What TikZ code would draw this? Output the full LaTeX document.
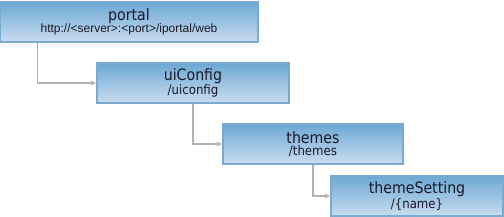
\documentclass[tikz,border=0pt]{standalone}
\usepackage{fontspec}
\setmainfont{DejaVu Sans Condensed}
\newfontfamily\urlfont{Liberation Sans}
\usetikzlibrary{arrows.meta}
\definecolor{boxtop}{RGB}{108,168,211}
\definecolor{boxbottom}{RGB}{202,220,240}
\definecolor{boxline}{RGB}{122,170,208}
\definecolor{linkgray}{RGB}{178,178,178}
\definecolor{textdark}{RGB}{25,25,40}
\newcommand{\subline}[1]{{\fontsize{9.8}{9}\selectfont #1}}

\begin{document}
\begin{tikzpicture}[x=0.75pt, y=-0.75pt,
  resbox/.style={draw=boxline, line width=0.8pt, top color=boxtop, bottom color=boxbottom,
    minimum height=30pt, inner sep=0pt, align=center, text=textdark,
    font=\fontsize{11.8}{9.2}\selectfont},
  link/.style={draw=linkgray, line width=1.1pt, -{Latex[length=4pt,width=4pt]}}]
\useasboundingbox (0,0) rectangle (504,217);
% resources
\node (portal) [resbox, minimum width=193.5pt] at (129,22)
  {portal\\{\urlfont\fontsize{9}{9}\selectfont http://<server>:<port>/iportal/web}};
\node (uiconfig) [resbox, minimum width=144pt] at (193,83)
  {uiConfig\\\subline{/uiconfig}};
\node (themes) [resbox, minimum width=135pt] at (313,144)
  {themes\\\subline{/themes}};
\node (themesetting) [resbox, minimum width=129pt] at (417,196)
  {themeSetting\\\subline{/\{name\}}};
% links
\draw[link] ([xshift=28.5pt]portal.south west) |- (uiconfig.west);
\draw[link] (uiconfig.south) |- (themes.west);
\draw[link] (themes.south) |- (themesetting.west);
\end{tikzpicture}
\end{document}
